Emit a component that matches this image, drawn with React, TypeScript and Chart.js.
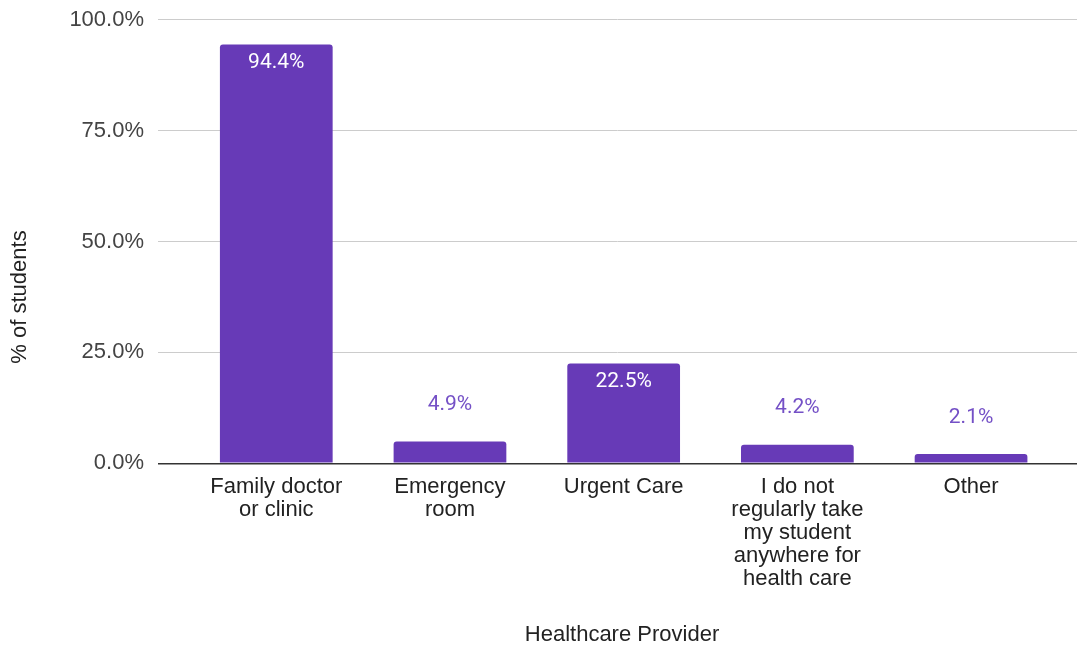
import React, { useEffect, useRef } from "react";
import { Chart, registerables } from "chart.js";

Chart.register(...registerables);

const categories: string[][] = [
  ["Family doctor", "or clinic"],
  ["Emergency", "room"],
  ["Urgent Care"],
  ["I do not", "regularly take", "my student", "anywhere for", "health care"],
  ["Other"],
];
const percentValues: number[] = [94.4, 4.9, 22.5, 4.2, 2.1];
const yTickValues: number[] = [0, 25, 50, 75, 100];
const xAxisTitle = "Healthcare Provider";
const yAxisTitle = "% of students";

const BAR = "#673ab7";
const SANS = "'Liberation Sans', Arial, sans-serif";

const labelPlugin = {
  id: "valueLabels",
  afterDatasetsDraw(chart: any) {
    const ctx = chart.ctx;
    const meta = chart.getDatasetMeta(0);
    ctx.save();
    ctx.font = "21px Roboto";
    ctx.textAlign = "center";
    ctx.textBaseline = "middle";
    meta.data.forEach((el: any, i: number) => {
      const v = percentValues[i];
      const txt = v.toFixed(1) + "%";
      if (v >= 10) {
        ctx.fillStyle = "#ffffff";
        ctx.fillText(txt, el.x, el.y + 18.5);
      } else {
        ctx.fillStyle = "#7450c6";
        ctx.fillText(txt, el.x, el.y - 36.5);
      }
    });
    ctx.restore();
  },
};

const titlesPlugin = {
  id: "axisTitles",
  afterDraw(chart: any) {
    const ctx = chart.ctx;
    ctx.save();
    ctx.font = "22px " + SANS;
    ctx.fillStyle = "#222";
    ctx.textAlign = "center";
    ctx.textBaseline = "middle";
    ctx.fillText(xAxisTitle, 622, 635);
    ctx.translate(20, 297);
    ctx.rotate(-Math.PI / 2);
    ctx.fillText(yAxisTitle, 0, 0);
    ctx.restore();
  },
};

export default function App() {
  const ref = useRef<HTMLCanvasElement | null>(null);
  useEffect(() => {
    if (!ref.current) return;
    const chart = new Chart(ref.current, {
      type: "bar",
      data: {
        datasets: [
          {
            data: percentValues.map((v, i) => ({ x: i, y: v })),
            backgroundColor: BAR,
            borderRadius: { topLeft: 3, topRight: 3, bottomLeft: 0, bottomRight: 0 },
            borderSkipped: "start",
            categoryPercentage: 1,
            barPercentage: 0.649,
          } as any,
        ],
      },
      options: {
        animation: false,
        responsive: true,
        maintainAspectRatio: false,
        layout: { padding: { top: 19.7, right: 0, bottom: 0, left: 0 } },
        plugins: { legend: { display: false }, tooltip: { enabled: false } },
        scales: {
          x: {
            type: "linear",
            offset: false,
            min: -0.681,
            max: 4.61,
            afterBuildTicks: (scale: any) => {
              scale.ticks = categories.map((_, i) => ({ value: i }));
            },
            afterFit: (scale: any) => {
              scale.height = 648 - 463.3;
              scale.paddingLeft = 0;
              scale.paddingRight = 0;
            },
            grid: { display: false, drawTicks: false, offset: false },
            border: { display: false },
            ticks: {
              autoSkip: false,
              maxRotation: 0,
              padding: 12.5,
              color: "#222",
              font: { family: SANS, size: 22, lineHeight: 1.045 },
              callback: (v: any) => {
                const idx = Math.round(Number(v));
                return Math.abs(Number(v) - idx) < 1e-6 && categories[idx] ? categories[idx] : "";
              },
            },
          },
          y: {
            min: 0,
            max: 100,
            afterBuildTicks: (scale: any) => {
              scale.ticks = yTickValues.map((v) => ({ value: v }));
            },
            afterFit: (scale: any) => {
              scale.width = 158;
              scale.paddingTop = 0;
              scale.paddingBottom = 0;
            },
            grid: {
              drawTicks: false,
              color: (c: any) => (c.tick && c.tick.value === 0 ? "#333333" : "#cccccc"),
              lineWidth: (c: any) => (c.tick && c.tick.value === 0 ? 1.5 : 1),
            },
            border: { display: false },
            ticks: {
              padding: 14,
              color: "#444",
              font: { family: SANS, size: 22 },
              callback: (v: any) => Number(v).toFixed(1) + "%",
            },
          },
        },
      },
      plugins: [labelPlugin, titlesPlugin],
    });
    return () => chart.destroy();
  }, []);
  return (
    <div style={{ position: "absolute", left: 0, top: 0, width: 1077, height: 648, background: "#fff" }}>
      <canvas ref={ref} />
    </div>
  );
}
